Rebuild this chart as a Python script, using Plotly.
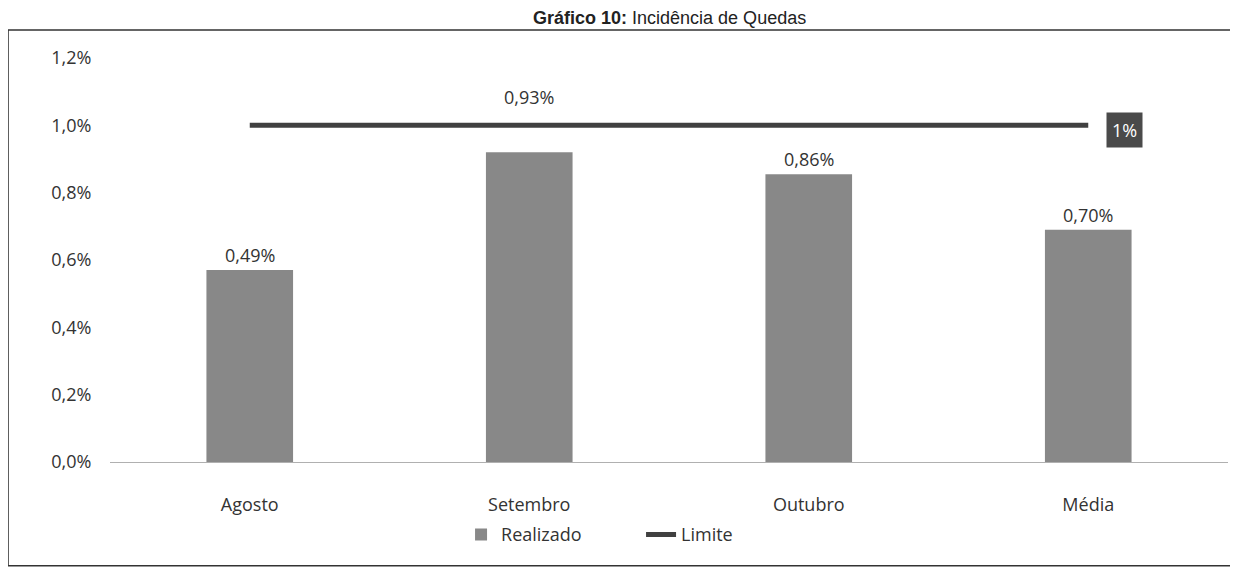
import plotly.graph_objects as go

categories = ["Agosto", "Setembro", "Outubro", "Média"]
realizado = [0.57, 0.92, 0.855, 0.69]          # bar heights as drawn (%)
realizado_labels = ["0,49%", "0,93%", "0,86%", "0,70%"]  # printed data labels
limite = [1.0, 1.0, 1.0, 1.0]
limite_label = "1%"
y_ticks = [0.0, 0.2, 0.4, 0.6, 0.8, 1.0, 1.2]
y_tick_text = ["0,0%", "0,2%", "0,4%", "0,6%", "0,8%", "1,0%", "1,2%"]

FONT = "Open Sans"
BAR_COLOR = "#888888"
LINE_COLOR = "#404040"

fig = go.Figure()
fig.add_trace(go.Bar(
    x=categories, y=realizado, name="Realizado",
    marker=dict(color=BAR_COLOR, line=dict(width=0)),
    width=0.31,
))
fig.add_trace(go.Scatter(
    x=categories, y=limite, name="Limite", mode="lines",
    line=dict(color=LINE_COLOR, width=5),
))

# data labels
for cat, val, lab in zip(categories, realizado, realizado_labels):
    if val > limite[0] - 0.1:
        ypos, shift = limite[0], 14
    else:
        ypos, shift = val, 1
    fig.add_annotation(x=cat, y=ypos, text=lab, showarrow=False,
                       yanchor="bottom", yshift=shift,
                       font=dict(family=FONT, size=18, color="#333"))

# limit label box
fig.add_annotation(x=categories[-1], y=limite[-1], text=limite_label,
                   showarrow=False, xanchor="left", xshift=18, yshift=-5,
                   bgcolor="#4a4a4a", font=dict(family=FONT, size=18, color="white"),
                   borderpad=5)

# title
fig.add_annotation(xref="paper", yref="paper", x=0.5, y=1.1,
                   text="<b>Gráfico 10:</b> Incidência de Quedas",
                   showarrow=False, xanchor="center", yanchor="middle",
                   font=dict(family="Liberation Sans, Arial", size=18, color="#222"))

# outer frame
fig.add_shape(type="rect", xref="paper", yref="paper",
              x0=-0.0912, x1=1.005, y0=-0.257, y1=1.069,
              line=dict(color="#333", width=1.5), fillcolor="rgba(0,0,0,0)")

fig.update_layout(
    width=1230, height=570,
    margin=dict(l=102, r=10, t=50, b=116),
    paper_bgcolor="white", plot_bgcolor="white",
    font=dict(family=FONT, size=18, color="#333"),
    showlegend=True,
    legend=dict(orientation="h", x=0.475, xanchor="center", y=-0.18, yanchor="middle",
                font=dict(family=FONT, size=18, color="#333"),
                entrywidth=135, entrywidthmode="pixels"),
    bargap=0.69,
)
fig.update_xaxes(showgrid=False, showline=True, linecolor="#b0b0b0", linewidth=1,
                 ticks="outside", ticklen=26, tickcolor="rgba(0,0,0,0)",
                 tickfont=dict(family=FONT, size=18, color="#333"))
fig.update_yaxes(range=[0, 1.2], tickvals=y_ticks, ticktext=y_tick_text,
                 showgrid=False, zeroline=False, showline=False,
                 ticks="outside", ticklen=14, tickcolor="rgba(0,0,0,0)",
                 tickfont=dict(family=FONT, size=18, color="#333"))

fig.write_html("out.html")
